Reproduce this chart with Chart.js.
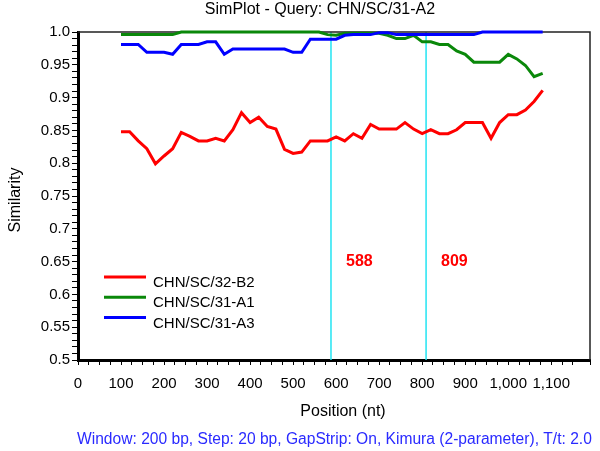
<!DOCTYPE html>
<html lang="en">

<head>
    <meta charset="UTF-8">
    <title>SimPlot - Query: CHN/SC/31-A2</title>
    <script src="https://cdn.jsdelivr.net/npm/chart.js"></script>
    <style>
        body { margin: 0; background: #fff; }
        #simChart { display: block; }
    </style>
</head>

<body>
    <canvas id="simChart" width="600" height="451"></canvas>

    <script>
        // window midpoints (nt)
        const positions = [100, 120, 140, 160, 180, 200, 220, 240, 260, 280,
            300, 320, 340, 360, 380, 400, 420, 440, 460, 480,
            500, 520, 540, 560, 580, 600, 620, 640, 660, 680,
            700, 720, 740, 760, 780, 800, 820, 840, 860, 880,
            900, 920, 940, 960, 980, 1000, 1020, 1040, 1060, 1080];

        const b2Values = [0.848, 0.848, 0.834, 0.822, 0.799, 0.811, 0.822, 0.847, 0.841, 0.834,
            0.834, 0.838, 0.834, 0.851, 0.877, 0.862, 0.870, 0.856, 0.852, 0.821,
            0.815, 0.817, 0.834, 0.834, 0.834, 0.840, 0.834, 0.845, 0.838, 0.859,
            0.852, 0.852, 0.852, 0.862, 0.852, 0.845, 0.851, 0.845, 0.845, 0.851,
            0.862, 0.862, 0.862, 0.838, 0.862, 0.874, 0.874, 0.881, 0.894, 0.911];

        const a1Values = [0.996, 0.996, 0.996, 0.996, 0.996, 0.996, 0.996, 1.0, 1.0, 1.0,
            1.0, 1.0, 1.0, 1.0, 1.0, 1.0, 1.0, 1.0, 1.0, 1.0,
            1.0, 1.0, 1.0, 1.0, 0.996, 0.995, 0.998, 0.998, 0.998, 0.998,
            0.998, 0.995, 0.990, 0.990, 0.995, 0.985, 0.985, 0.981, 0.981, 0.971,
            0.966, 0.954, 0.954, 0.954, 0.954, 0.966, 0.959, 0.949, 0.932, 0.937];

        const a3Values = [0.981, 0.981, 0.981, 0.969, 0.969, 0.969, 0.966, 0.981, 0.981, 0.981,
            0.985, 0.985, 0.966, 0.974, 0.974, 0.974, 0.974, 0.974, 0.974, 0.974,
            0.969, 0.969, 0.989, 0.989, 0.989, 0.989, 0.995, 0.996, 0.996, 0.996,
            0.999, 0.999, 0.996, 0.996, 0.996, 0.996, 0.996, 0.996, 0.996, 0.996,
            0.996, 0.996, 1.0, 1.0, 1.0, 1.0, 1.0, 1.0, 1.0, 1.0];

        const seriesNames = ['CHN/SC/32-B2', 'CHN/SC/31-A1', 'CHN/SC/31-A3'];
        const seriesColors = ['#ff0000', '#0a880a', '#0000ff'];
        const breakpoints = [588, 809];

        const chartTitle = 'SimPlot - Query: CHN/SC/31-A2';
        const xTitle = 'Position (nt)';
        const yTitle = 'Similarity';
        const footerText = 'Window: 200 bp, Step: 20 bp, GapStrip: On, Kimura (2-parameter), T/t: 2.0';

        function toPoints(values) {
            return positions.map((p, i) => ({ x: p, y: values[i] }));
        }

        // titles, legend, breakpoint lines and frame
        const simplotDecor = {
            id: 'simplotDecor',
            beforeDatasetsDraw(chart) {
                const { ctx, chartArea: a, scales: { x } } = chart;
                ctx.save();
                ctx.strokeStyle = '#22e4f2';
                ctx.lineWidth = 1.5;
                breakpoints.forEach(bp => {
                    const px = x.getPixelForValue(bp);
                    ctx.beginPath();
                    ctx.moveTo(px, a.top);
                    ctx.lineTo(px, a.bottom);
                    ctx.stroke();
                });
                // top and right sides of the box
                ctx.strokeStyle = '#222';
                ctx.lineWidth = 1.5;
                ctx.beginPath();
                ctx.moveTo(a.left, a.top);
                ctx.lineTo(a.right, a.top);
                ctx.lineTo(a.right, a.bottom);
                ctx.stroke();
                ctx.restore();
            },
            afterDraw(chart) {
                const { ctx, chartArea: a, scales: { x } } = chart;
                ctx.save();
                ctx.fillStyle = '#000';
                ctx.textBaseline = 'middle';

                ctx.font = '16px Arial, "Liberation Sans"';
                ctx.textAlign = 'center';
                ctx.fillText(chartTitle, 320, 10);
                ctx.fillText(xTitle, 343, 412);

                ctx.save();
                ctx.translate(16, 200);
                ctx.rotate(-Math.PI / 2);
                ctx.fillText(yTitle, 0, 0);
                ctx.restore();

                ctx.textAlign = 'left';
                ctx.fillStyle = '#2a2aff';
                ctx.font = '15.6px Arial, "Liberation Sans"';
                ctx.fillText(footerText, 77, 440);

                // breakpoint labels
                ctx.fillStyle = '#ff0000';
                ctx.font = 'bold 16px Arial, "Liberation Sans"';
                breakpoints.forEach(bp => {
                    ctx.fillText(String(bp), x.getPixelForValue(bp) + 15, 262);
                });

                // legend
                ctx.font = '15px Arial, "Liberation Sans"';
                ctx.lineWidth = 3;
                seriesNames.forEach((name, i) => {
                    const ly = 277 + i * 20.3;
                    ctx.strokeStyle = seriesColors[i];
                    ctx.beginPath();
                    ctx.moveTo(104, ly);
                    ctx.lineTo(146, ly);
                    ctx.stroke();
                    ctx.fillStyle = '#000';
                    ctx.fillText(name, 153, ly + 6);
                });
                ctx.restore();
            }
        };

        const valueSets = [b2Values, a1Values, a3Values];
        const datasets = seriesNames.map((name, i) => ({
            label: name,
            data: toPoints(valueSets[i]),
            borderColor: seriesColors[i],
            borderWidth: 3,
            pointRadius: 0,
            tension: 0,
            fill: false,
            clip: 4,
            order: 3 - i
        }));

        const tickFont = { family: 'Arial, "Liberation Sans"', size: 15 };

        new Chart(document.getElementById('simChart'), {
            type: 'line',
            data: { datasets: datasets },
            options: {
                responsive: false,
                animation: false,
                devicePixelRatio: 1,
                layout: { padding: { top: 32, right: 2, left: 0, bottom: 0 } },
                plugins: {
                    legend: { display: false },
                    tooltip: { enabled: false },
                    title: { display: false }
                },
                scales: {
                    x: {
                        type: 'linear',
                        min: 0,
                        max: 1190,
                        afterFit: s => { s.height = 91; },
                        grid: { drawOnChartArea: false, tickLength: 5, tickColor: '#000' },
                        border: { display: true, color: '#000', width: 3 },
                        ticks: {
                            stepSize: 25,
                            autoSkip: false,
                            maxRotation: 0,
                            padding: 10,
                            color: '#000',
                            font: tickFont,
                            callback: v => (v % 100 === 0 && v <= 1100) ? v.toLocaleString('en-US') : ''
                        }
                    },
                    y: {
                        type: 'linear',
                        min: 0.5,
                        max: 1.0,
                        afterFit: s => { s.width = 78; },
                        grid: { drawOnChartArea: false, tickLength: 6, tickColor: '#000' },
                        border: { display: true, color: '#000', width: 3 },
                        ticks: {
                            stepSize: 0.01,
                            autoSkip: false,
                            padding: 2,
                            color: '#000',
                            font: tickFont,
                            callback: v => {
                                const h = Math.round(v * 100);
                                if (h % 5) return '';
                                return h === 100 ? '1.0' : String(h / 100);
                            }
                        }
                    }
                }
            },
            plugins: [simplotDecor]
        });
    </script>
</body>

</html>
